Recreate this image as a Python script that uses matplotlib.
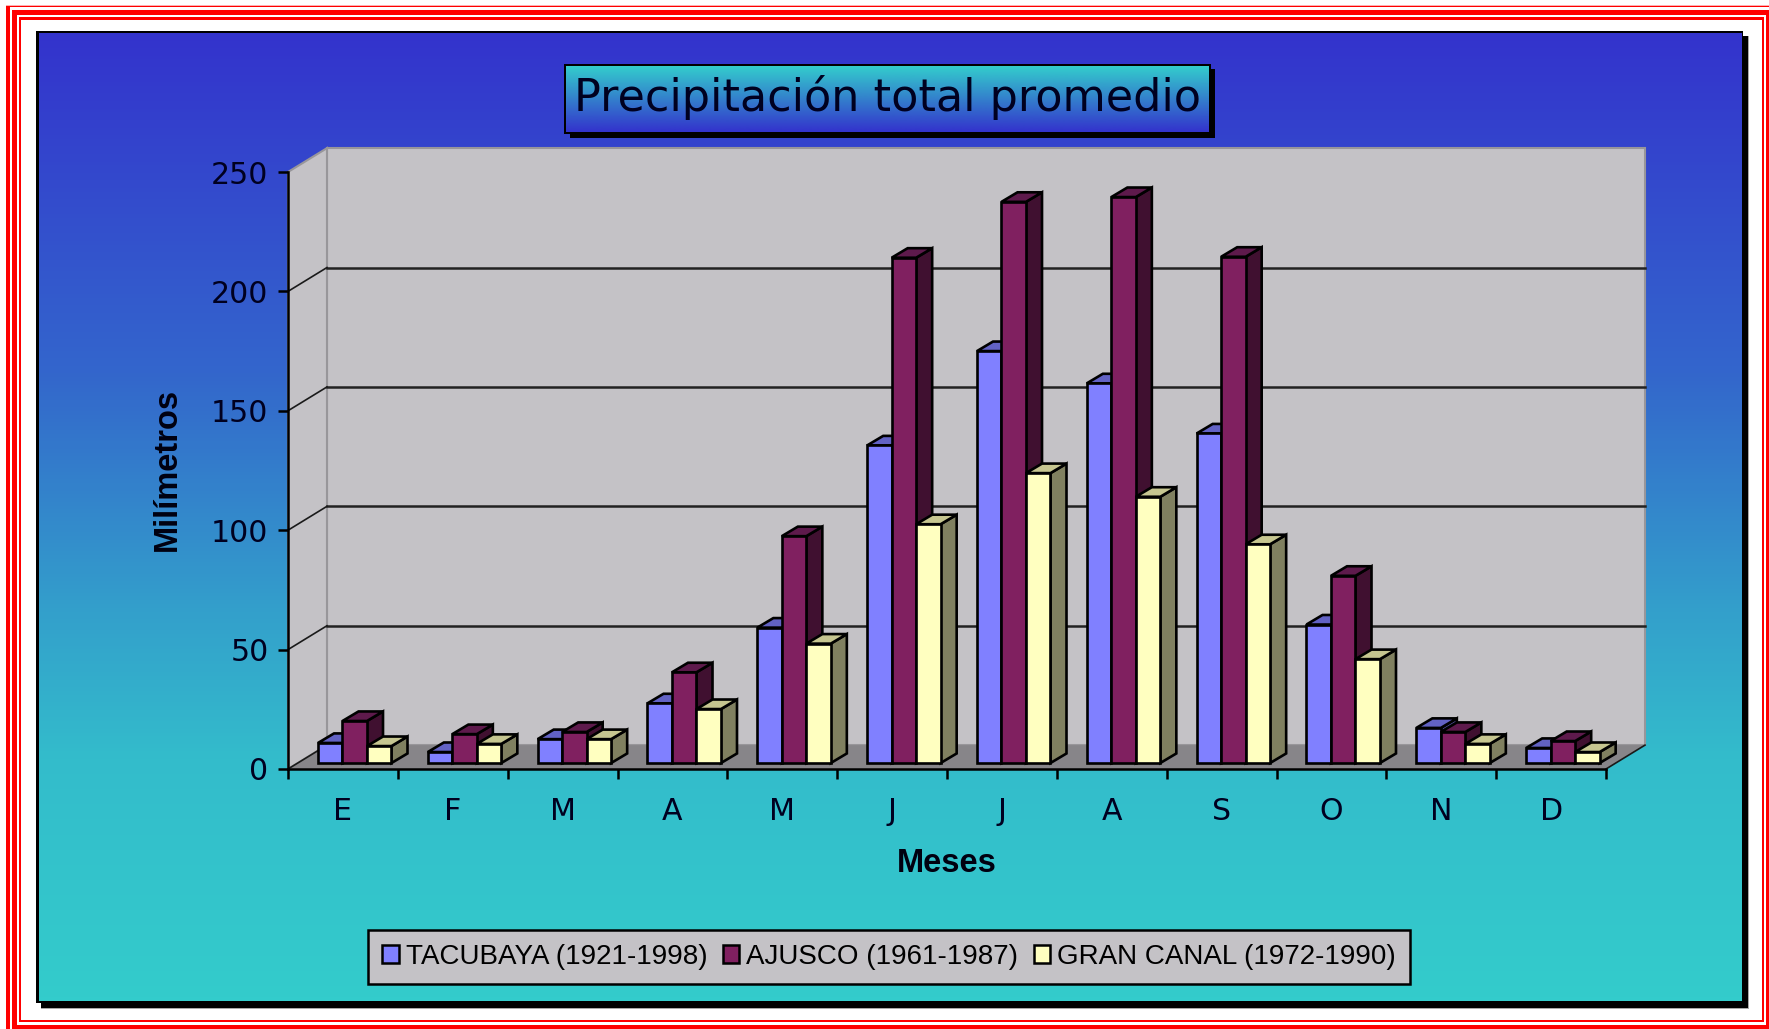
import numpy as np
import matplotlib
matplotlib.use('agg')
import matplotlib.pyplot as plt
from matplotlib.patches import Patch, Polygon, Rectangle
from matplotlib.colors import LinearSegmentedColormap

months = ['E', 'F', 'M', 'A', 'M', 'J', 'J', 'A', 'S', 'O', 'N', 'D']
tacubaya = [8.4, 4.6, 10, 25, 56.7, 133, 172.5, 159, 138, 58, 14.7, 6.3]
ajusco = [17.6, 12.1, 13, 38, 95, 211.6, 235, 237, 212, 78.4, 13, 9.2]
gran_canal = [7.1, 8, 10, 22.6, 50, 100, 121.4, 111.5, 91.6, 43.5, 8, 4.6]
series_names = ['TACUBAYA (1921-1998)', 'AJUSCO (1961-1987)', 'GRAN CANAL (1972-1990)']
y_ticks = [0, 50, 100, 150, 200, 250]

W, H = 1769, 1029
WALL = '#C4C2C6'
FLOOR = '#878589'
FONT_WIDE = 'DejaVu Sans'
FONT_NARROW = 'Liberation Sans'
# front, top, side
face_colors = [('#8080FF', '#6262C4', '#50509C'),
               ('#802060', '#5E1A4C', '#401030'),
               ('#FFFFC0', '#C6C690', '#808060')]

fig = plt.figure(figsize=(W / 100, H / 100), dpi=100, facecolor='white')

# everything around the plot is drawn in pixel coordinates
bg = fig.add_axes([0, 0, 1, 1])
bg.set_xlim(0, W)
bg.set_ylim(H, 0)
bg.axis('off')


def box(x0, y0, x1, y1, color, z=1, **kw):
    bg.add_patch(Rectangle((x0, y0), x1 - x0, y1 - y0, facecolor=color,
                           edgecolor='none', zorder=z, **kw))


# red frame, nested rectangles
box(6, 5, W + 5, H + 5, '#FFB0B0')
box(6, 6, W + 5, H + 5, 'red')
box(10, 7, W + 5, H + 5, 'white')
box(12, 10, 1769, 1029, 'red')
box(16.5, 15, 1766, 1025, 'white')
box(18.7, 17, 1764, 1022, 'red')
box(21, 19.5, 1761.7, 1020, 'white')

# panel with gradient and shadow
box(41, 36, 1749, 1009, '#A8A8A8', z=2)
box(41, 36, 1748, 1008, 'black', z=2)
box(36, 31, 1743, 1003, 'black', z=3)
blue_teal = LinearSegmentedColormap.from_list(
    'bt', [(0, '#3333CC'), (0.35, '#3366CC'), (0.6, '#33A0CB'), (0.75, '#33BCCB'), (1, '#33CCCC')])
bg.imshow(np.linspace(0, 1, 256).reshape(-1, 1), cmap=blue_teal, aspect='auto',
          extent=(38.5, 1741, 1001, 33.5), zorder=4)
bg.set_xlim(0, W)
bg.set_ylim(H, 0)

# title box
box(570, 69, 1215, 138, 'black', z=5)
box(564, 64, 1211, 134, 'black', z=6)
title_grad = LinearSegmentedColormap.from_list('tb', ['#33CCCC', '#3333CC'])
bg.imshow(np.linspace(0, 1, 64).reshape(-1, 1), cmap=title_grad, aspect='auto',
          extent=(566, 1209, 132, 66), zorder=7)
bg.set_xlim(0, W)
bg.set_ylim(H, 0)
bg.text(887.5, 98, 'Precipitación total promedio', family=FONT_WIDE, fontsize=32,
        color='#000020', ha='center', va='center', zorder=8)

# main axes sit on the front plane of the 3D box
left, right, top, bottom = 288, 1606, 172, 769
ax = fig.add_axes([left / W, 1 - bottom / H, (right - left) / W, (bottom - top) / H])
ax.patch.set_visible(False)
ax.set_xlim(0, 12)
ax.set_ylim(0, 250)

depth_x = 0.355
depth_y = 10.0
bar_width = 0.223
bar_start = 0.273
bar_base = 2.5
bar_dx = 0.146
bar_dy = 4.0

# walls and floor
ax.add_patch(Polygon([(depth_x, depth_y), (12 + depth_x, depth_y), (12 + depth_x, 250 + depth_y),
                      (depth_x, 250 + depth_y)], closed=True, facecolor=WALL, edgecolor='#98969A',
                     lw=1.5, clip_on=False, zorder=1))
ax.add_patch(Polygon([(0, 0), (depth_x, depth_y), (depth_x, 250 + depth_y), (0, 250)], closed=True,
                     facecolor=WALL, edgecolor='#98969A', lw=1.5, clip_on=False, zorder=1))
ax.add_patch(Polygon([(0, 0), (12, 0), (12 + depth_x, depth_y), (depth_x, depth_y)], closed=True,
                     facecolor=FLOOR, edgecolor='none', clip_on=False, zorder=1))
for v in y_ticks[1:-1]:
    ax.plot([depth_x, 12 + depth_x], [v + depth_y, v + depth_y], color='#222222', lw=1.8,
            clip_on=False, zorder=2)
for v in y_ticks[:-1]:
    ax.plot([0, depth_x], [v, v + depth_y], color='#1A1A1A', lw=1.2, clip_on=False, zorder=2)
ax.plot([12, 12 + depth_x], [0, depth_y], color='#1A1A1A', lw=1.2, clip_on=False, zorder=2)

# bars, painted left to right so each one covers the sides of the previous
z = 3
for m in range(len(months)):
    for s, values in enumerate([tacubaya, ajusco, gran_canal]):
        x0 = m + bar_start + s * bar_width
        x1 = x0 + bar_width
        y1 = bar_base + values[m]
        front, top_c, side = face_colors[s]
        ax.add_patch(Polygon([(x1, bar_base), (x1 + bar_dx, bar_base + bar_dy),
                              (x1 + bar_dx, y1 + bar_dy), (x1, y1)], closed=True, facecolor=side,
                             edgecolor='black', lw=1.9, clip_on=False, zorder=z))
        ax.add_patch(Polygon([(x0, y1), (x0 + bar_dx, y1 + bar_dy), (x1 + bar_dx, y1 + bar_dy),
                              (x1, y1)], closed=True, facecolor=top_c, edgecolor='black', lw=1.9,
                             clip_on=False, zorder=z))
        ax.bar(x0, values[m], width=bar_width, bottom=bar_base, align='edge', color=front,
               edgecolor='black', lw=1.9, clip_on=False, zorder=z)
        z += 1

# axes
for name in ['top', 'right']:
    ax.spines[name].set_visible(False)
for name in ['left', 'bottom']:
    ax.spines[name].set_linewidth(1.8)
    ax.spines[name].set_zorder(z)
ax.set_xticks(range(13))
ax.set_xticklabels([])
ax.set_xticks(np.arange(12) + 0.5, labels=months, minor=True)
ax.tick_params(axis='x', which='minor', length=0, pad=20, labelsize=21.6)
ax.tick_params(axis='x', which='major', length=7, width=1.8)
ax.set_yticks(y_ticks)
ax.tick_params(axis='y', length=7, width=1.8, pad=7, labelsize=21.6)
for lab in ax.get_xticklabels(minor=True) + ax.get_yticklabels():
    lab.set_family(FONT_WIDE)
    lab.set_color('#000020')

bg.text(947, 863, 'Meses', family=FONT_NARROW, fontweight='bold', fontsize=23.5, color='#000010',
        ha='center', va='center', zorder=8)
bg.text(167, 469, 'Milímetros', family=FONT_NARROW, fontweight='bold', fontsize=23.5, color='#000010',
        rotation=90, ha='center', va='center', zorder=8)

# legend
handles = [Patch(facecolor=c[0], edgecolor='black', lw=1.8) for c in face_colors]
leg = bg.legend(handles, series_names, loc='center', bbox_to_anchor=(889, 957),
                bbox_transform=bg.transData, ncols=3, frameon=True, fancybox=False,
                facecolor=WALL, edgecolor='black', framealpha=1,
                prop={'family': FONT_NARROW, 'size': 20}, handlelength=0.6, handleheight=0.6,
                handletextpad=0.25, columnspacing=0.55, borderpad=0.5, borderaxespad=0)
leg.get_frame().set_linewidth(1.8)
leg.set_zorder(8)

fig.savefig('out.png', dpi=100)
